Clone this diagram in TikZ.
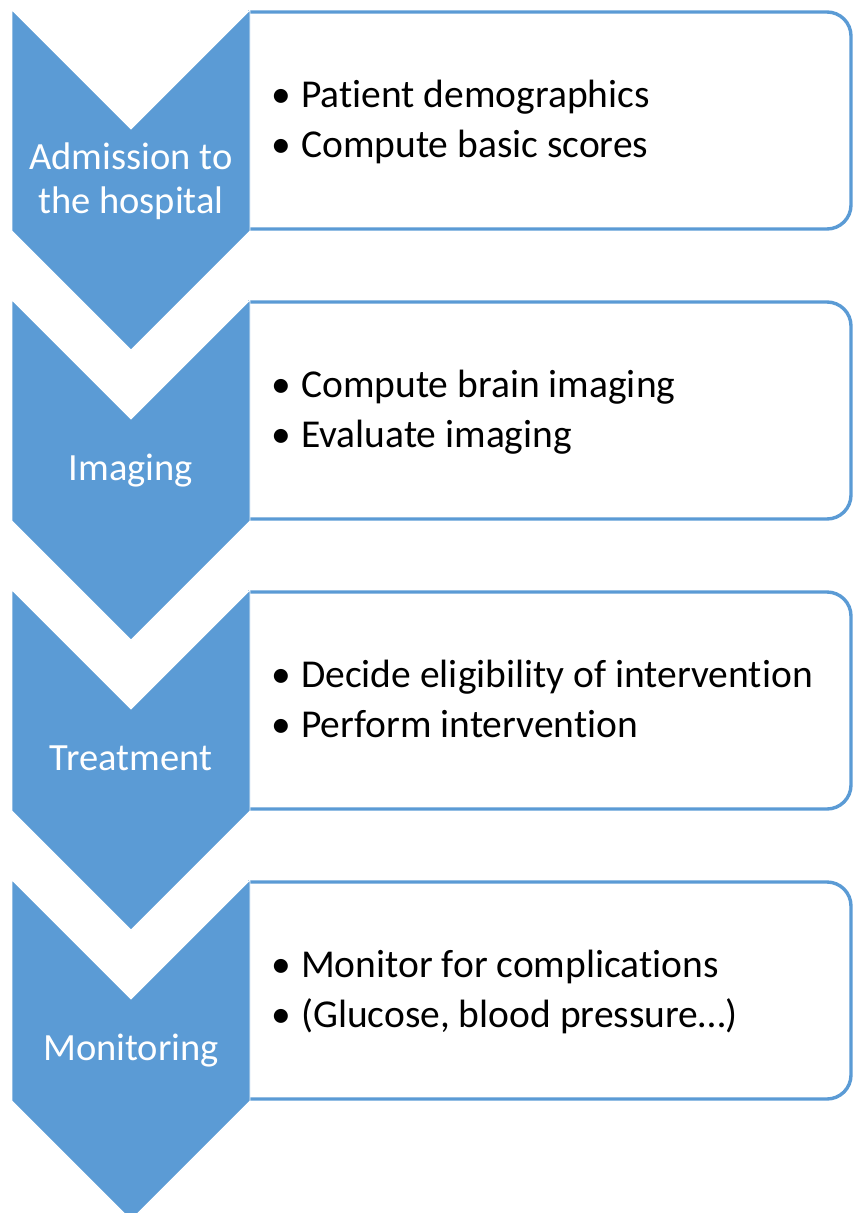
\documentclass[tikz,border=0pt]{standalone}
\usepackage{fontspec}
\setmainfont{Carlito}[Ligatures={NoCommon,NoContextual}]
\definecolor{accent}{HTML}{5B9BD5}

% One stage: chevron with its title on the left, outlined list box on the right.
% #1 index, #2 title, #3 title baseline offset (last line), #4 first item, #5 second item
\newcommand\drawstage[5]{%
  \pgfmathsetmacro\C{10+290*#1}%
  \pgfmathsetmacro\T{12+290*#1}%
  \pgfmathsetmacro\B{\T+217}%
  \draw[listbox] (248,\T) -- (851,\T) -- (851,\B) -- (248,\B);
  \draw[chevron] (12,\C) -- (131,\C+119) -- (250,\C) -- (250,\C+221)
    -- (131,\C+340) -- (12,\C+221) -- cycle;
  \node[stagetitle] (title#1) at (131,\C+#3) {#2};
  \node[bulletmark] (dotA#1) at (271,\T+95) {\textbullet};
  \node[itemtext] (itemA#1) at (301,\T+95) {#4};
  \node[bulletmark] (dotB#1) at (271,\T+145) {\textbullet};
  \node[itemtext] (itemB#1) at (301,\T+145) {#5};
}

\begin{document}
\begin{tikzpicture}[x=1pt,y=-1pt,
  chevron/.style={fill=accent, draw=white, line width=0.8pt, line join=miter},
  listbox/.style={draw=accent, fill=white, line width=3.4pt, rounded corners=24pt},
  stagetitle/.style={text=white, font=\fontsize{38.5}{44}\selectfont,
    align=center, anchor=base, inner sep=0pt},
  bulletmark/.style={font=\fontsize{39.5}{50}\selectfont, anchor=base west, inner sep=0pt},
  itemtext/.style={font=\fontsize{39.5}{50}\selectfont, anchor=base west, inner sep=0pt},
]
\useasboundingbox (0,0) rectangle (853,1213);
\clip (0,0) rectangle (853,1213);

\drawstage{0}{Admission to\\the hospital}{203}{Patient demographics}{Compute basic scores}
\drawstage{1}{Imaging}{180}{Compute brain imaging}{Evaluate imaging}
\drawstage{2}{Treatment}{180}{Decide eligibility of intervention}{Perform intervention}
\drawstage{3}{Monitoring}{180}{Monitor for complications}{(Glucose, blood pressure…)}
\end{tikzpicture}
\end{document}
